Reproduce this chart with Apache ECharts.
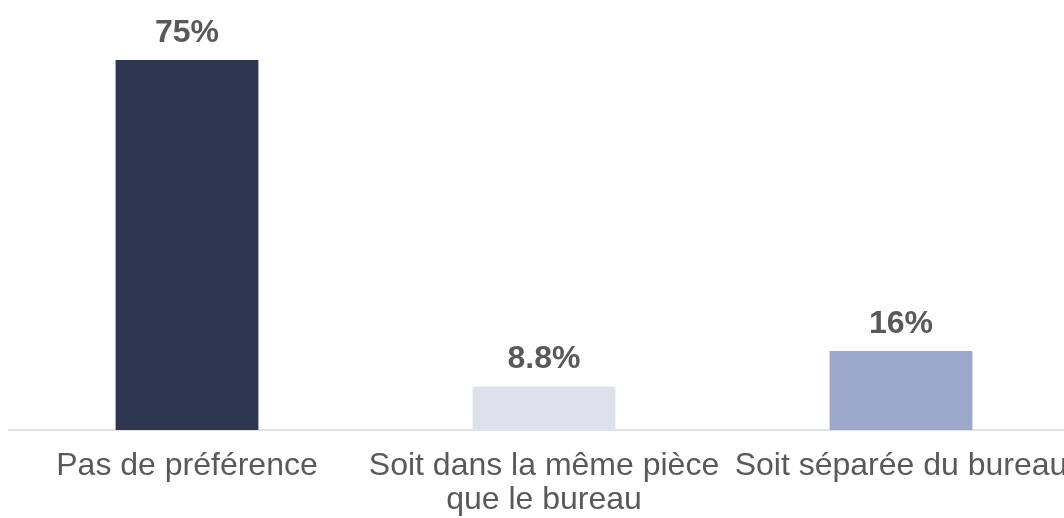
<!DOCTYPE html>
<html>
<head>
<meta charset="utf-8">
<script src="https://cdn.jsdelivr.net/npm/echarts@6/dist/echarts.min.js"></script>
<style>
html,body{margin:0;padding:0;background:#fff;}
#chart{width:1064px;height:518px;}
</style>
</head>
<body>
<div id="chart"></div>
<script>
const categories = ["Pas de préférence", "Soit dans la même pièce\nque le bureau", "Soit séparée du bureau"];
const values = [75, 8.8, 16];
const labels = ["75%", "8.8%", "16%"];
const barColors = ["#2D3752", "#DDE1EC", "#9BA8C9"];

const chart = echarts.init(document.getElementById('chart'), null, {renderer: 'canvas'});
chart.setOption({
  animation: false,
  backgroundColor: '#ffffff',
  grid: {left: 8.5, width: 1071, top: 35.33, bottom: 88, containLabel: false, outerBoundsMode: 'none'},
  xAxis: {
    type: 'category',
    data: categories,
    axisLine: {show: true, lineStyle: {color: '#D9D9D9', width: 1.5}},
    axisTick: {show: false},
    axisLabel: {
      interval: 0,
      color: '#595959',
      fontFamily: 'Liberation Sans, Arial, sans-serif',
      fontSize: 32,
      lineHeight: 34,
      margin: 19
    }
  },
  yAxis: {
    type: 'value',
    min: 0,
    max: 80,
    show: false,
    splitLine: {show: false}
  },
  series: [{
    type: 'bar',
    barWidth: '40%',
    data: values.map((v, i) => ({value: v, itemStyle: {color: barColors[i]}})),
    label: {
      show: true,
      position: 'top',
      distance: 11,
      color: '#595959',
      fontFamily: 'Liberation Sans, Arial, sans-serif',
      fontWeight: 'bold',
      fontSize: 32,
      formatter: p => labels[p.dataIndex]
    }
  }]
});
</script>
</body>
</html>
